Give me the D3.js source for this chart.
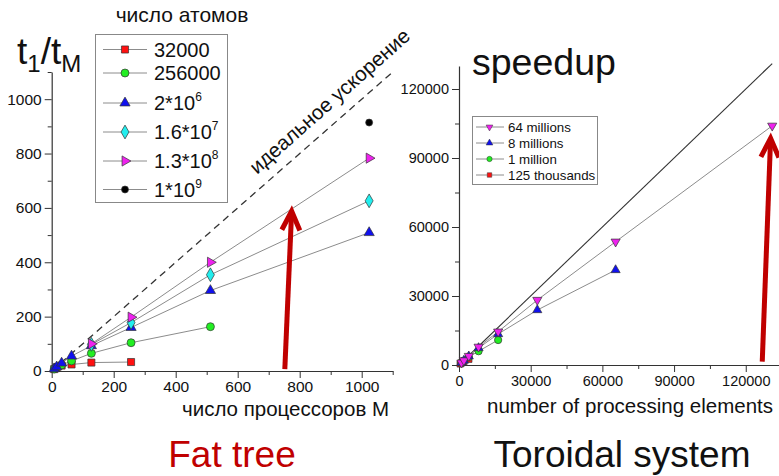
<!DOCTYPE html>
<html><head><meta charset="utf-8">
<script src="https://cdn.jsdelivr.net/npm/d3@7"></script>
<style>
body{margin:0;background:#fff;}
svg{display:block;font-family:"Liberation Sans",Arial,sans-serif;}
</style></head>
<body>
<svg id="c" width="779" height="476"></svg>
<script>
// ---------- Left chart (Fat tree) data ----------
const ftSeries = ["32000","256000","2*10^6","1.6*10^7","1.3*10^8","1*10^9"];
const ft32000   = [[8,7],[16,13],[32,20],[64,24],[128,31],[256,33]];
const ft256000  = [[8,7],[16,14],[32,22],[64,37],[128,65],[256,104],[512,163]];
const ft2e6     = [[8,8],[16,15],[32,29],[64,55],[128,93],[256,160],[512,296],[1024,509]];
const ft16e7    = [[128,98],[256,178],[512,354],[1024,626]];
const ft13e8    = [[128,100],[256,198],[512,400],[1024,783]];
const ft1e9     = [[1024,914]];
const ftXTicks  = [0,200,400,600,800,1000];
const ftYTicks  = [0,200,400,600,800,1000];
const ftIdeal   = [[0,0],[1100,1100]];
const ftArrow   = [[752,7],[774,588]];

// ---------- Right chart (Toroidal) data ----------
const trSeries = ["64 millions","8 millions","1 million","125 thousands"];
const tr64m  = [[1024,1000],[2048,2000],[4096,3900],[8192,7900],[16384,14480],[32768,28260],[65536,53600],[131072,104000]];
const tr8m   = [[1024,1000],[2048,1950],[4096,3800],[8192,7400],[16384,13480],[32768,23900],[65536,41300]];
const tr1m   = [[1024,950],[2048,1900],[4096,3500],[8192,6000],[16384,10870]];
const tr125k = [[512,480],[1024,900],[2048,1500],[4096,2500]];
const trXTicks = [0,30000,60000,90000,120000];
const trYTicks = [0,30000,60000,90000,120000];
const trIdeal  = [[0,0],[131072,131072]];
const trArrow  = [[126900,1430],[130400,98600]];

const svg = d3.select("#c");
const RED = "#c00000";
const LINE = "#8c8c8c";
const OUT = "#333";
const FONT = "Liberation Sans, Arial, sans-serif";

function symPath(type, size, rot){
  return {d: d3.symbol().type(type).size(size)(), rot: rot||0};
}
function drawMarkers(g, data, x, y, sym, fill){
  g.selectAll(null).data(data).join("path")
    .attr("d", sym.d)
    .attr("transform", d=>`translate(${x(d[0])},${y(d[1])}) rotate(${sym.rot})`)
    .attr("fill", fill).attr("stroke", OUT).attr("stroke-width", 0.7);
}
function drawLine(g, data, x, y, color, w, dash){
  g.append("path").datum(data)
    .attr("d", d3.line().x(d=>x(d[0])).y(d=>y(d[1])))
    .attr("fill","none").attr("stroke",color).attr("stroke-width",w)
    .attr("stroke-dasharray", dash||null);
}
function drawArrow(g, pts, x, y){
  const [b,t] = pts.map(p=>[x(p[0]),y(p[1])]);
  const dx=t[0]-b[0], dy=t[1]-b[1], L=Math.hypot(dx,dy);
  const ux=dx/L, uy=dy/L, px=-uy, py=ux;
  g.append("line").attr("x1",b[0]).attr("y1",b[1]).attr("x2",t[0]-ux*3).attr("y2",t[1]-uy*3)
    .attr("stroke",RED).attr("stroke-width",5);
  const w1=[t[0]-ux*19+px*9, t[1]-uy*19+py*9], w2=[t[0]-ux*19-px*9, t[1]-uy*19-py*9];
  g.append("path").attr("d",`M${w1}L${t}L${w2}`).attr("fill","none")
    .attr("stroke",RED).attr("stroke-width",5).attr("stroke-linejoin","miter");
}
function styleAxis(a, fs){
  a.select(".domain").attr("stroke","#333").attr("stroke-width",1.2);
  a.selectAll(".tick line").attr("stroke","#333").attr("stroke-width",1);
  a.selectAll("text").attr("fill","#111").style("font-size",fs+"px").style("font-family",FONT);
}
const fmt = d3.format("d");

// ================= LEFT =================
{
  const x = d3.scaleLinear([0,1100],[51.7,392.7]);
  const y = d3.scaleLinear([0,1100],[371,72]);
  const g = svg.append("g");
  const minorX = d3.range(100,1101,200), minorY = d3.range(100,1101,200);
  g.append("g").attr("transform",`translate(0,${y(0)})`)
    .call(d3.axisBottom(x).tickValues(minorX).tickSize(4).tickSizeOuter(0).tickFormat(""))
    .call(a=>a.select(".domain").remove()).call(a=>styleAxis(a,16));
  g.append("g").attr("transform",`translate(${x(0)},0)`)
    .call(d3.axisLeft(y).tickValues(minorY).tickSize(4).tickSizeOuter(0).tickFormat(""))
    .call(a=>a.select(".domain").remove()).call(a=>styleAxis(a,16));
  const ax = g.append("g").attr("transform",`translate(0,${y(0)})`)
    .call(d3.axisBottom(x).tickValues(ftXTicks).tickSize(7).tickSizeOuter(0).tickPadding(3).tickFormat(fmt));
  styleAxis(ax,15.5);
  const ay = g.append("g").attr("transform",`translate(${x(0)},0)`)
    .call(d3.axisLeft(y).tickValues(ftYTicks).tickSize(7).tickSizeOuter(0).tickPadding(3).tickFormat(fmt));
  styleAxis(ay,15.5);

  drawLine(g, ftIdeal, x, y, "#333", 1.3, "7,5");
  const c = [x(896), y(993)];
  g.append("text").attr("transform",`translate(${c}) rotate(-41.5)`)
    .attr("text-anchor","middle").attr("dy","0.35em")
    .style("font-size","20.5px").attr("fill","#111").text("идеальное ускорение");

  const series = [
    {d:ft32000, s:symPath(d3.symbolSquare,50), f:"#ff1010"},
    {d:ft256000,s:symPath(d3.symbolCircle,50), f:"#22ee22"},
    {d:ft2e6,   s:symPath(d3.symbolTriangle,45), f:"#1010ee"},
    {d:ft16e7,  s:symPath(d3.symbolDiamond,55), f:"#22eeee"},
    {d:ft13e8,  s:symPath(d3.symbolTriangle,45,90), f:"#ee22ee"},
    {d:ft1e9,   s:symPath(d3.symbolCircle,38), f:"#000"}
  ];
  series.forEach(s=>{ if(s.d.length>1) drawLine(g, s.d, x, y, LINE, 1); });
  series.forEach(s=>drawMarkers(g, s.d, x, y, s.s, s.f));

  drawArrow(g, ftArrow, x, y);

  g.append("text").attr("x",182).attr("y",22).attr("text-anchor","middle")
    .style("font-size","21px").attr("fill","#111").text("число атомов");
  g.append("rect").attr("x",95.5).attr("y",34.5).attr("width",132).attr("height",168)
    .attr("fill","#fff").attr("stroke","#888").attr("stroke-width",1);
  const rowY = [49.5,73,103,132,161,189.5];
  series.forEach((s,i)=>{
    const ly = rowY[i];
    g.append("line").attr("x1",103).attr("x2",147).attr("y1",ly).attr("y2",ly).attr("stroke",LINE).attr("stroke-width",1);
    g.append("path").attr("d",s.s.d).attr("transform",`translate(125,${ly}) rotate(${s.s.rot})`)
      .attr("fill",s.f).attr("stroke",OUT).attr("stroke-width",0.7);
    const t = g.append("text").attr("x",154).attr("y",ly+7).style("font-size","20px").attr("fill","#111");
    const parts = ftSeries[i].split("^");
    t.append("tspan").text(parts[0]);
    if(parts[1]) t.append("tspan").attr("dy",-9).style("font-size","12px").text(parts[1]);
  });

  const tt = g.append("text").attr("x",17).attr("y",64).style("font-size","37px").attr("fill","#111");
  tt.append("tspan").text("t");
  tt.append("tspan").attr("dy",8).style("font-size","24px").text("1");
  tt.append("tspan").attr("dy",-8).text("/t");
  tt.append("tspan").attr("dy",8).style("font-size","24px").text("M");

  g.append("text").attr("x",182).attr("y",416).style("font-size","20.5px").attr("fill","#111").text("число процессоров M");
  g.append("text").attr("x",232).attr("y",467).attr("text-anchor","middle").style("font-size","37px").attr("fill",RED).text("Fat tree");
}

// ================= RIGHT =================
{
  const x = d3.scaleLinear([0,135000],[459,781.6]);
  const y = d3.scaleLinear([0,130000],[365,66]);
  const g = svg.append("g");
  const minorX = d3.range(15000,135001,30000), minorY = d3.range(15000,130001,30000);
  g.append("g").attr("transform",`translate(0,${y(0)})`)
    .call(d3.axisBottom(x).tickValues(minorX).tickSize(4).tickSizeOuter(0).tickFormat(""))
    .call(a=>a.select(".domain").remove()).call(a=>styleAxis(a,14));
  g.append("g").attr("transform",`translate(${x(0)},0)`)
    .call(d3.axisLeft(y).tickValues(minorY).tickSize(4).tickSizeOuter(0).tickFormat(""))
    .call(a=>a.select(".domain").remove()).call(a=>styleAxis(a,14));
  const ax = g.append("g").attr("transform",`translate(0,${y(0)})`)
    .call(d3.axisBottom(x).tickValues(trXTicks).tickSize(7).tickSizeOuter(0).tickPadding(4).tickFormat(fmt));
  styleAxis(ax,14.5);
  const ay = g.append("g").attr("transform",`translate(${x(0)},0)`)
    .call(d3.axisLeft(y).tickValues(trYTicks).tickSize(7).tickSizeOuter(0).tickPadding(3).tickFormat(fmt));
  styleAxis(ay,14.5);

  drawLine(g, trIdeal, x, y, "#333", 1.1);
  const series = [
    {d:tr64m,  s:symPath(d3.symbolTriangle,36,180), f:"#ee22ee"},
    {d:tr8m,   s:symPath(d3.symbolTriangle,36), f:"#1010ee"},
    {d:tr1m,   s:symPath(d3.symbolCircle,42), f:"#22ee22"},
    {d:tr125k, s:symPath(d3.symbolSquare,40), f:"#ff1010"}
  ];
  series.forEach(s=>drawLine(g, s.d, x, y, LINE, 1));
  series.slice().reverse().forEach(s=>drawMarkers(g, s.d, x, y, s.s, s.f));

  drawArrow(g, trArrow, x, y);

  g.append("rect").attr("x",472.5).attr("y",116.5).attr("width",125).attr("height",68)
    .attr("fill","#fff").attr("stroke","#888").attr("stroke-width",1);
  const rowY = [127,143,159,175];
  const legSym = [
    symPath(d3.symbolTriangle,20,180), symPath(d3.symbolTriangle,20),
    symPath(d3.symbolCircle,22), symPath(d3.symbolSquare,20)
  ];
  series.forEach((s,i)=>{
    const ly=rowY[i];
    g.append("line").attr("x1",476).attr("x2",504).attr("y1",ly).attr("y2",ly).attr("stroke",LINE).attr("stroke-width",1);
    g.append("path").attr("d",legSym[i].d).attr("transform",`translate(489.5,${ly}) rotate(${legSym[i].rot})`)
      .attr("fill",s.f).attr("stroke",OUT).attr("stroke-width",0.5);
    g.append("text").attr("x",508).attr("y",ly+4.5).style("font-size","13.3px").attr("fill","#111").text(trSeries[i]);
  });

  g.append("text").attr("x",472).attr("y",75).style("font-size","37.5px").attr("fill","#111").text("speedup");
  g.append("text").attr("x",487).attr("y",413).style("font-size","20.5px").attr("fill","#111").text("number of processing elements");
  g.append("text").attr("x",622).attr("y",467).attr("text-anchor","middle").style("font-size","37px").attr("fill","#111").text("Toroidal system");
}
</script>
</body></html>
